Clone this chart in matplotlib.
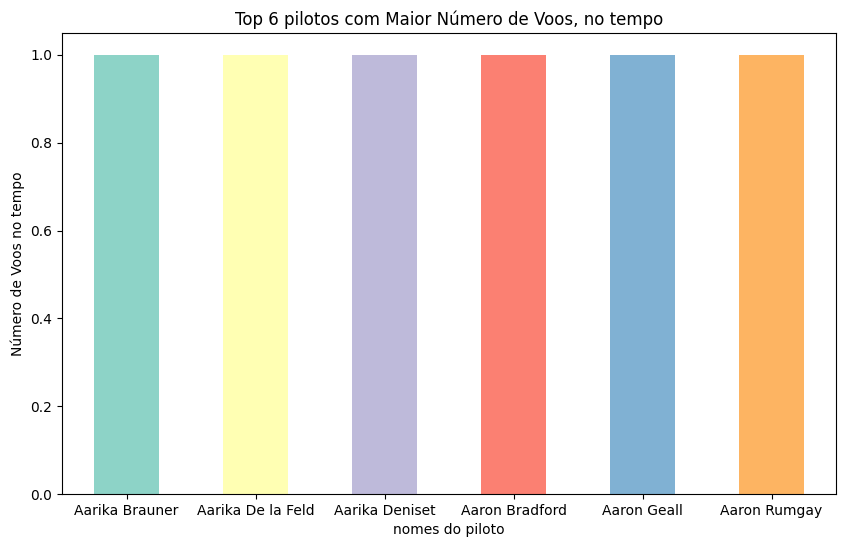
import matplotlib
matplotlib.use('Agg')
import matplotlib.pyplot as plt

pilotos = ['Aarika Brauner', 'Aarika De la Feld', 'Aarika Deniset',
           'Aaron Bradford', 'Aaron Geall', 'Aaron Rumgay']
voos = [1, 1, 1, 1, 1, 1]
cores = plt.cm.Set3.colors[:6]

fig = plt.figure(figsize=(8.46, 5.48), dpi=100)
ax = fig.add_axes([0.0733, 0.0985, 0.9149, 0.8413])

ax.bar(range(len(pilotos)), voos, width=0.5, color=cores)
ax.set_xticks(range(len(pilotos)))
ax.set_xticklabels(pilotos, rotation=0)
ax.set_xlim(-0.5, len(pilotos) - 0.5)
ax.set_ylim(0, 1.05)
ax.set_xlabel('nomes do piloto')
ax.set_ylabel('Número de Voos no tempo')
ax.set_title('Top 6 pilotos com Maior Número de Voos, no tempo')

fig.savefig('out.png', dpi=100)
